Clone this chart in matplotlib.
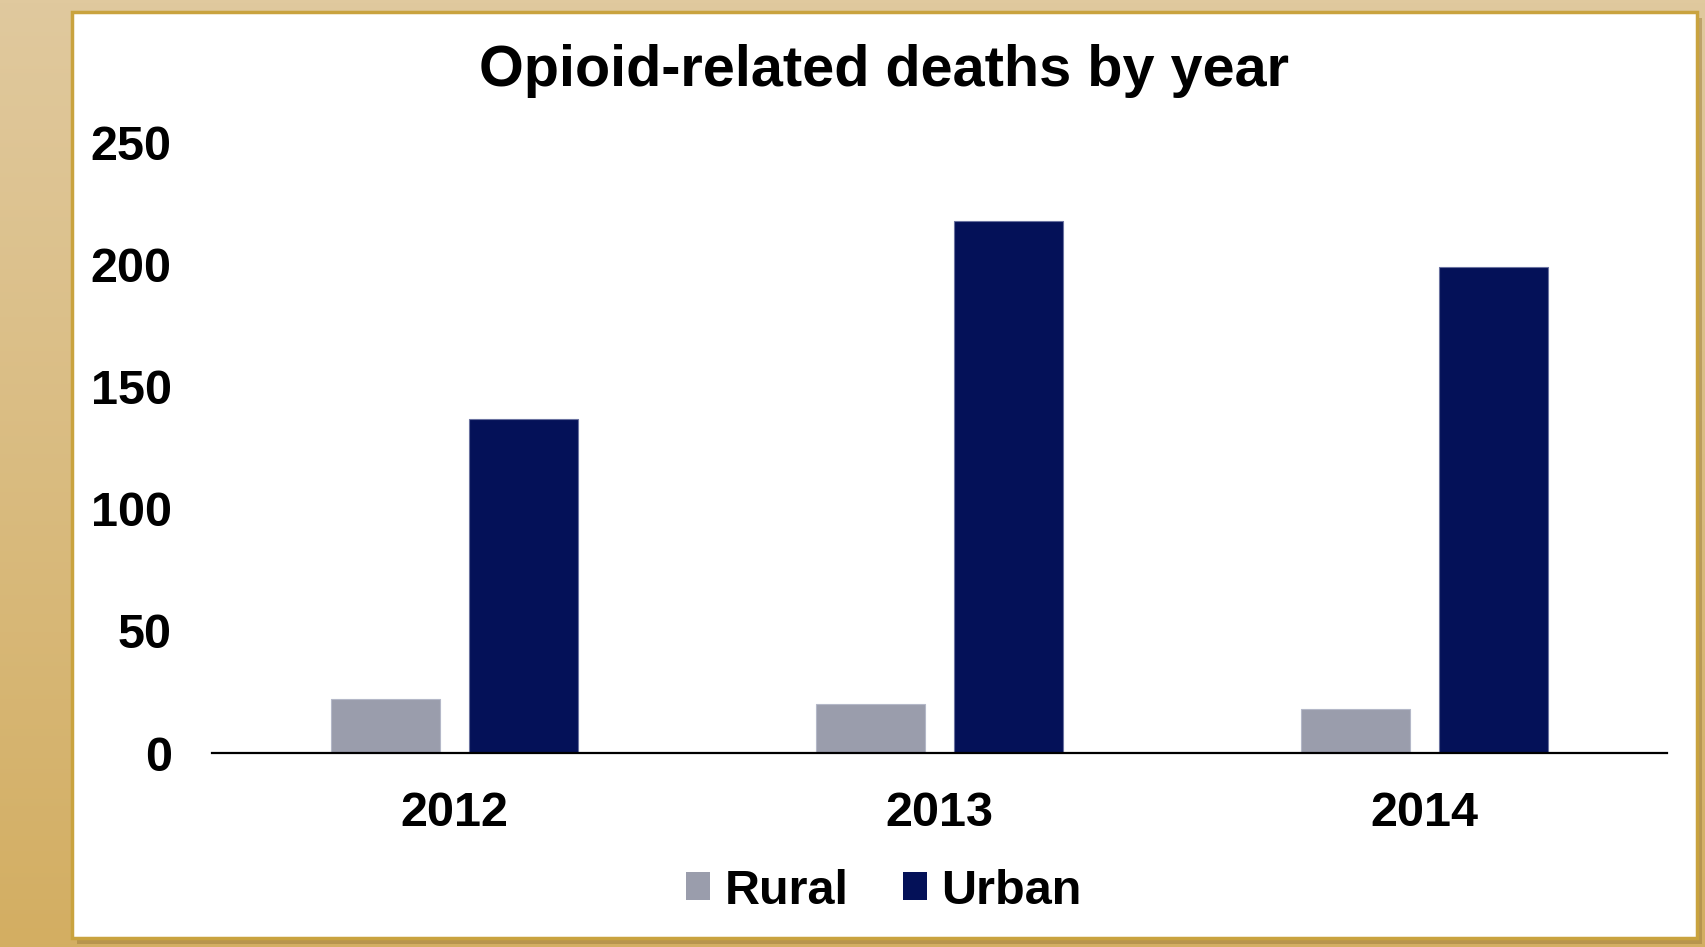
import numpy as np
import matplotlib
matplotlib.use("Agg")
from matplotlib import pyplot as plt
from matplotlib.patches import Rectangle, Patch
from matplotlib.colors import LinearSegmentedColormap

plt.rcParams['font.family'] = ['Liberation Sans', 'DejaVu Sans']
plt.rcParams['font.weight'] = 'bold'

# data
years = ["2012", "2013", "2014"]
rural = [22, 20, 18]
urban = [137, 218, 199]
y_ticks = [0, 50, 100, 150, 200, 250]

rural_color = "#9A9DAC"
urban_color = "#041158"

fig = plt.figure(figsize=(17.06, 9.47), dpi=100)

# tan gradient background
bg = fig.add_axes([0, 0, 1, 1], zorder=-10)
grad = np.linspace(0, 1, 256).reshape(-1, 1)
cmap = LinearSegmentedColormap.from_list("tan", ["#E0C99E", "#D3AE62"])
bg.imshow(grad, aspect="auto", cmap=cmap, extent=[0, 1, 0, 1], origin="upper")
bg.set_xlim(0, 1)
bg.set_ylim(0, 1)
bg.axis("off")

# white panel with gold frame and shadow
W, H = 1706, 947
px0, py0, px1, py1 = 72, 12, 1697, 938
bg.add_patch(Rectangle(((px0 + 5) / W, 1 - (py1 + 6) / H), (px1 - px0) / W, (py1 - py0) / H,
                       facecolor="#9C7E3C", edgecolor="none", alpha=0.5))
bg.add_patch(Rectangle((px0 / W, 1 - py1 / H), (px1 - px0) / W, (py1 - py0) / H,
                       facecolor="white", edgecolor="#C9A33F", linewidth=2.5))

ax = fig.add_axes([212 / W, 194 / H, (1667 - 212) / W, (804.4 - 194) / H])
x = np.arange(len(years))
w = 0.225
off = 0.1425
ax.bar(x - off, rural, w, color=rural_color, edgecolor="#B4B8C8", linewidth=0.8, label="Rural")
ax.bar(x + off, urban, w, color=urban_color, edgecolor="#6A72A0", linewidth=0.8, label="Urban")

ax.set_xlim(-0.5, 2.5)
ax.set_ylim(0, 250)
ax.set_yticks(y_ticks)
ax.set_xticks(x)
ax.set_xticklabels(years)
ax.tick_params(axis="both", length=0, labelsize=35)
ax.tick_params(axis="y", pad=29)
ax.tick_params(axis="x", pad=27)
for s in ["top", "right", "left"]:
    ax.spines[s].set_visible(False)
ax.spines["bottom"].set_linewidth(1.6)
ax.spines["bottom"].set_color("black")
ax.patch.set_alpha(0)

fig.text(884 / W, 1 - 71 / H, "Opioid-related deaths by year", ha="center", va="center",
         fontsize=41.5, fontweight="bold")

handles = [Patch(facecolor=rural_color, label="Rural"), Patch(facecolor=urban_color, label="Urban")]
fig.legend(handles=handles, loc="center", bbox_to_anchor=(884 / W, 1 - 891 / H), ncol=2,
           frameon=False, fontsize=35, handlelength=0.5, handleheight=0.5,
           handletextpad=0.3, columnspacing=1.1)

fig.savefig("out.png", dpi=100)
